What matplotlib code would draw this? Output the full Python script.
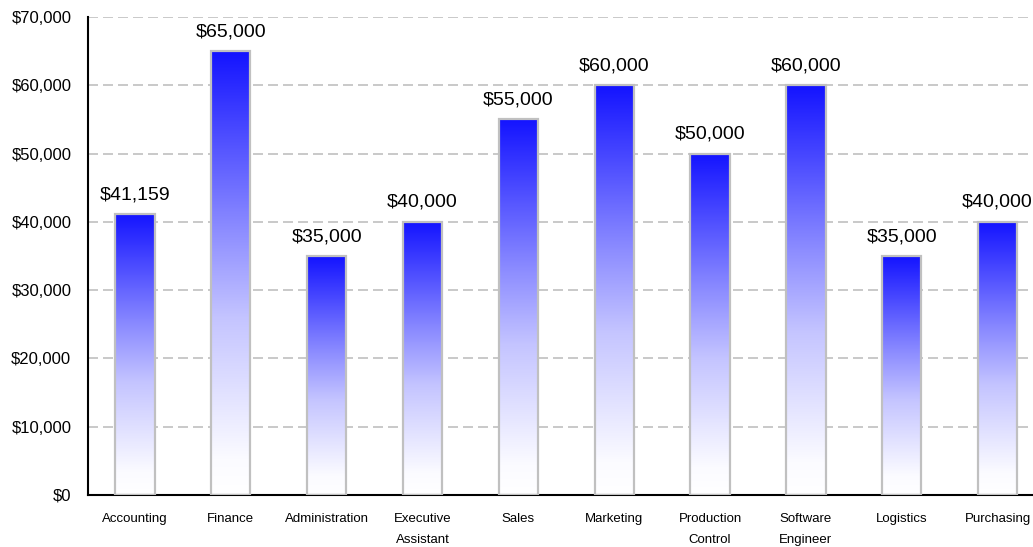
import numpy as np
import matplotlib
matplotlib.use("Agg")
import matplotlib.pyplot as plt
from matplotlib.colors import LinearSegmentedColormap
from matplotlib.ticker import FuncFormatter

plt.rcParams['font.family'] = ['Liberation Sans', 'DejaVu Sans']

# data
departments = ["Accounting", "Finance", "Administration", "Executive\nAssistant", "Sales",
               "Marketing", "Production\nControl", "Software\nEngineer", "Logistics", "Purchasing"]
salaries = [41159, 65000, 35000, 40000, 55000, 60000, 50000, 60000, 35000, 40000]

fig = plt.figure(figsize=(10.33, 5.47), dpi=100)
ax = fig.add_axes([88 / 1033, 52 / 547, 1 - 88 / 1033, 478 / 547])

# blue -> white gradient, top of each bar is the darkest
cmap = LinearSegmentedColormap.from_list(
    "bw", [(0, "#ffffff"), (0.08, "#fbfbff"), (0.4, "#c4c4ff"), (0.6, "#8c8cff"), (1, "#1414ff")])
grad = np.linspace(0, 1, 256).reshape(-1, 1)
width = 0.41

for i, v in enumerate(salaries):
    ax.imshow(grad, cmap=cmap, origin="lower", aspect="auto",
              extent=(i - width / 2, i + width / 2, 0, v), zorder=2)
    ax.add_patch(plt.Rectangle((i - width / 2, 0), width, v, fill=False,
                               edgecolor="#c0c0c0", lw=1.6, zorder=3))
    ax.text(i, v + 1600, "${:,}".format(v), ha="center", va="bottom", fontsize=14, zorder=4)

ax.set_xlim(-0.49, 9.37)
ax.set_ylim(0, 70000)
ax.set_yticks(range(0, 70001, 10000))
ax.yaxis.set_major_formatter(FuncFormatter(lambda y, p: "${:,.0f}".format(y)))
ax.set_xticks(range(len(departments)))
ax.set_xticklabels(departments, fontsize=9.5, linespacing=2.0, va="top")
ax.tick_params(axis="y", length=0, labelsize=12, pad=12)
ax.tick_params(axis="x", length=0, pad=13)

ax.grid(axis="y", color="#c0c0c0", linestyle=(0, (6, 3)), lw=1.2, zorder=0)
ax.set_axisbelow(True)
for s in ["top", "right"]:
    ax.spines[s].set_visible(False)
ax.spines["left"].set_linewidth(1.5)
ax.spines["bottom"].set_linewidth(1.5)

fig.savefig("out.png", dpi=100)
